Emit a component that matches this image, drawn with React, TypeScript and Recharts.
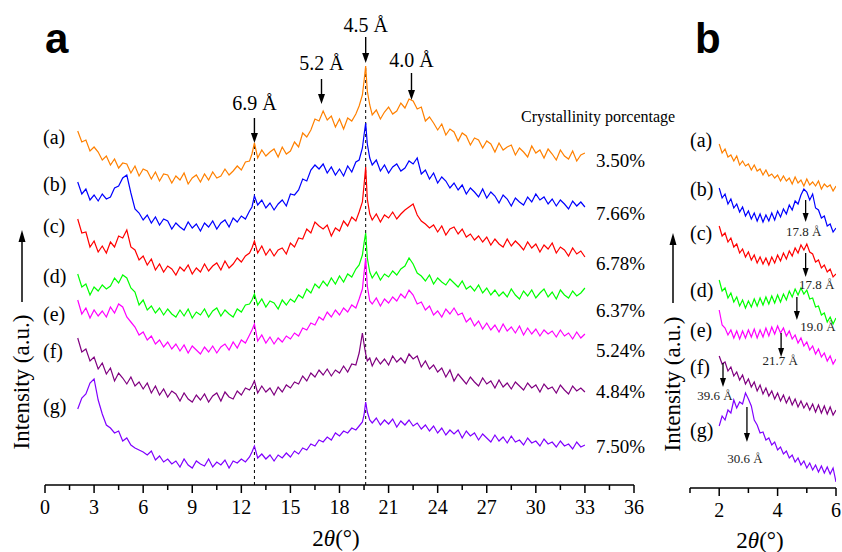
import React from "react";
import { LineChart, Line, XAxis, YAxis, ReferenceLine, ReferenceDot } from "recharts";

const SERIF = '"Liberation Serif", "Times New Roman", Times, serif';
const SANS = '"Liberation Sans", Arial, Helvetica, sans-serif';

// ---- panel a: wide-angle scan, 2θ in degrees ----
const TWO_THETA_A = [
  2, 2.25, 2.5, 2.75, 3, 3.25, 3.5, 3.75, 4, 4.25, 4.5, 4.75, 5, 5.25, 5.5, 5.75, 6, 6.25, 6.5, 6.75,
  7, 7.25, 7.5, 7.75, 8, 8.25, 8.5, 8.75, 9, 9.25, 9.5, 9.75, 10, 10.25, 10.5, 10.75, 11, 11.25, 11.5, 11.75,
  12, 12.25, 12.5,
  12.65, 12.8,
  13, 13.25, 13.5, 13.75, 14, 14.25, 14.5, 14.75, 15, 15.25, 15.5, 15.75, 16, 16.25, 16.5, 16.75, 17, 17.25,
  17.5, 17.75, 18, 18.25, 18.5, 18.75, 19,
  19.2, 19.4, 19.5, 19.6, 19.7, 19.85,
  20, 20.25, 20.5, 20.75, 21, 21.25, 21.5, 21.75, 22, 22.25, 22.5, 22.75, 23, 23.25, 23.5, 23.75, 24, 24.25,
  24.5, 24.75, 25, 25.25, 25.5, 25.75, 26, 26.25, 26.5, 26.75, 27, 27.25, 27.5, 27.75, 28, 28.25, 28.5, 28.75,
  29, 29.25, 29.5, 29.75, 30, 30.25, 30.5, 30.75, 31, 31.25, 31.5, 31.75, 32, 32.25, 32.5, 32.75, 33,
];

// intensities (a.u., stacked with offsets)
const A_ORANGE = [
  354, 343, 345, 334, 338, 333, 325, 329, 320, 326, 317, 322, 321, 312, 319, 309, 316, 314, 306, 313,
  304, 311, 310, 302, 309, 305, 312, 301, 307, 310, 303, 311, 305, 313, 307, 309, 316, 310, 314, 319,
  315, 323, 324,
  331, 342,
  327, 335, 329, 333, 336, 328, 338, 331, 334, 343, 338, 352, 348, 355, 366, 364, 374, 365, 369, 358,
  366, 356, 367, 364, 371,
  379, 390, 404, 419, 394, 380,
  370, 375, 366, 373, 378, 371, 374, 382, 377, 386, 384, 376, 378, 364, 368, 362, 355, 361, 350, 356,
  353, 344, 352, 349, 340, 347, 345, 337, 344, 341, 333, 342, 335, 338, 340, 330, 337, 333, 328, 339,
  332, 335, 327, 336, 331, 325, 335, 329, 326, 334, 324, 330, 332,
];
const B_BLUE = [
  303, 291, 296, 285, 290, 284, 291, 286, 288, 297, 299, 307, 310, 292, 276, 272, 265, 270, 262, 268,
  260, 266, 264, 256, 262, 258, 255, 263, 257, 261, 254, 262, 258, 264, 256, 262, 265, 258, 267, 263,
  269, 266, 274,
  278, 289,
  280, 285, 277, 282, 275, 281, 285, 279, 291, 290, 295, 306, 304, 315, 320, 316, 321, 312, 318, 310,
  316, 309, 319, 313, 323,
  325, 337, 350, 362, 341, 327,
  320, 325, 314, 320, 312, 318, 321, 314, 317, 324, 321, 327, 311, 315, 306, 312, 302, 308, 304, 297,
  302, 295, 300, 291, 297, 293, 288, 296, 287, 293, 289, 282, 290, 286, 279, 287, 283, 280, 288, 283,
  291, 285, 288, 281, 286, 279, 285, 281, 276, 284, 279, 283, 278,
];
const C_RED = [
  266, 252, 253, 238, 244, 233, 239, 232, 243, 238, 249, 247, 255, 238, 235, 225, 229, 220, 226, 215,
  221, 213, 219, 216, 210, 218, 214, 220, 211, 217, 213, 221, 214, 219, 222, 215, 224, 217, 221, 227,
  223, 229, 232,
  237, 244,
  232, 239, 230, 236, 229, 235, 237, 231, 242, 238, 247, 246, 256, 252, 263, 259, 256, 260, 249, 257,
  254, 264, 259, 268, 264,
  273, 283, 300, 318, 286, 271,
  265, 271, 263, 270, 267, 273, 266, 271, 275, 278, 281, 270, 264, 261, 257, 260, 253, 259, 250, 256,
  258, 251, 256, 248, 251, 245, 249, 243, 248, 240, 246, 241, 238, 246, 239, 244, 240, 235, 243, 237,
  241, 233, 240, 236, 242, 232, 238, 235, 229, 237, 231, 234, 228,
];
const D_GREEN = [
  211, 198, 201, 190, 198, 194, 200, 196, 199, 207, 202, 210, 207, 197, 193, 180, 185, 175, 179, 172,
  177, 170, 176, 171, 168, 175, 169, 176, 167, 173, 170, 176, 168, 174, 177, 169, 175, 171, 168, 176,
  173, 180, 181,
  185, 191,
  180, 186, 178, 184, 182, 176, 185, 180, 186, 183, 190, 187, 196, 192, 201, 197, 204, 199, 207, 201,
  209, 203, 211, 208, 216,
  220, 230, 242, 252, 227, 213,
  207, 213, 205, 211, 208, 214, 210, 216, 219, 227, 221, 212, 209, 204, 210, 201, 207, 203, 200, 206,
  202, 198, 204, 196, 199, 194, 200, 192, 197, 190, 195, 189, 193, 188, 196, 190, 186, 194, 189, 195,
  187, 192, 196, 188, 193, 186, 195, 190, 187, 194, 189, 192, 197,
];
const E_MAGENTA = [
  185, 171, 177, 167, 175, 169, 174, 168, 178, 172, 181, 178, 168, 163, 158, 150, 153, 145, 149, 141,
  145, 138, 143, 136, 141, 134, 140, 132, 139, 135, 131, 138, 133, 139, 132, 138, 141, 135, 143, 137,
  145, 142, 150,
  155, 161,
  144, 150, 142, 148, 141, 147, 143, 149, 146, 152, 149, 157, 155, 162, 160, 168, 165, 173, 168, 175,
  170, 177, 173, 180, 177,
  186, 196, 212, 227, 199, 184,
  181, 187, 179, 186, 182, 188, 184, 191, 187, 195, 190, 181, 183, 175, 179, 170, 174, 168, 176, 171,
  177, 170, 172, 163, 167, 159, 164, 156, 162, 155, 160, 153, 161, 154, 158, 152, 159, 150, 157, 151,
  156, 149, 155, 151, 154, 148, 155, 149, 152, 146, 153, 147, 151,
];
const F_PURPLE = [
  147, 133, 136, 124, 128, 116, 122, 111, 117, 104, 112, 107, 101, 108, 99, 103, 96, 102, 92, 99,
  90, 96, 88, 94, 91, 84, 92, 86, 83, 90, 85, 91, 83, 89, 92, 84, 93, 88, 86, 94,
  90, 97, 95,
  99, 104,
  92, 99, 93, 97, 90, 98, 93, 100, 97, 103, 101, 109, 104, 112, 108, 115, 110, 116, 109, 115,
  112, 119, 113, 121, 120,
  132, 152, 141, 131, 124, 127,
  119, 127, 121, 126, 120, 129, 123, 127, 122, 131, 126, 129, 118, 124, 116, 120, 113, 117, 108, 115,
  104, 111, 106, 101, 108, 103, 99, 107, 101, 104, 97, 105, 98, 102, 96, 103, 99, 95, 102, 97,
  100, 93, 101, 96, 98, 92, 100, 95, 91, 99, 94, 97, 93,
];
const G_VIOLET = [
  76, 87, 91, 102, 106, 85, 71, 60, 57, 52, 54, 44, 47, 40, 37, 35, 33, 30, 34, 25,
  29, 23, 26, 21, 24, 18, 26, 20, 17, 24, 21, 19, 26, 18, 23, 20, 25, 17, 24, 22,
  26, 23, 28,
  33, 39,
  27, 31, 26, 30, 24, 30, 27, 32, 28, 34, 31, 37, 35, 41, 39, 45, 43, 48, 45, 52,
  49, 54, 52, 57, 55,
  59, 63, 70, 83, 73, 65,
  62, 67, 60, 65, 61, 66, 58, 64, 60, 65, 59, 62, 56, 60, 54, 59, 52, 57, 50, 55,
  51, 55, 47, 54, 49, 52, 45, 51, 47, 43, 50, 44, 48, 42, 49, 43, 45, 40, 47, 42,
  44, 39, 46, 41, 43, 38, 44, 39, 41, 36, 43, 38, 40,
];

// ---- panel b: low-angle scan ----
const TWO_THETA_B = [
  2.0, 2.1, 2.2, 2.3, 2.4, 2.5, 2.6, 2.7, 2.8, 2.9, 3.0, 3.1, 3.2, 3.3, 3.4, 3.5, 3.6, 3.7, 3.8, 3.9,
  4.0, 4.1, 4.2, 4.3, 4.4, 4.5, 4.6, 4.7, 4.8, 4.9, 5.0, 5.1, 5.2, 5.3, 5.4, 5.5, 5.6, 5.7, 5.8, 5.9, 6.0,
];
const B_ORANGE_LOW = [
  344, 335, 339, 331, 333, 327, 332, 323, 327, 322, 324, 318, 323, 317, 319, 313, 318, 312, 314, 310,
  313, 307, 312, 307, 310, 304, 311, 305, 308, 302, 309, 303, 306, 302, 307, 299, 304, 301, 303, 297, 302,
];
const B_BLUE_LOW = [
  300, 290, 294, 284, 289, 280, 284, 276, 281, 272, 277, 269, 275, 267, 274, 266, 273, 267, 275, 268,
  277, 271, 279, 274, 283, 278, 287, 284, 293, 299, 296, 288, 294, 280, 278, 270, 272, 262, 264, 256, 260,
];
const B_RED_LOW = [
  262, 252, 255, 246, 250, 241, 244, 235, 239, 231, 236, 228, 233, 225, 231, 224, 230, 223, 231, 225,
  233, 227, 235, 229, 237, 232, 240, 235, 243, 238, 244, 236, 234, 226, 228, 220, 223, 216, 219, 211, 214,
];
const B_GREEN_LOW = [
  208, 197, 200, 190, 195, 186, 191, 182, 188, 180, 187, 181, 189, 182, 190, 183, 191, 184, 192, 185,
  193, 186, 194, 188, 197, 191, 199, 193, 200, 194, 198, 189, 190, 181, 182, 173, 175, 166, 171, 164, 170,
];
const B_MAGENTA_LOW = [
  178, 163, 160, 153, 158, 150, 157, 149, 157, 150, 158, 151, 159, 150, 158, 151, 160, 152, 161, 154,
  162, 155, 160, 152, 157, 149, 153, 145, 150, 142, 146, 138, 142, 134, 139, 131, 135, 127, 132, 124, 129,
];
const B_PURPLE_LOW = [
  132, 124, 126, 117, 121, 112, 116, 108, 113, 104, 109, 101, 106, 97, 103, 94, 100, 92, 97, 89,
  95, 87, 93, 85, 91, 83, 89, 81, 87, 80, 85, 78, 84, 76, 83, 75, 82, 74, 81, 73, 78,
];
const B_VIOLET_LOW = [
  62, 72, 68, 78, 75, 88, 80, 86, 84, 95, 89, 82, 68, 63, 55, 56, 48, 50, 43, 46,
  38, 41, 34, 37, 30, 33, 26, 30, 23, 27, 20, 25, 18, 23, 16, 22, 15, 21, 14, 20, 6,
];

const KEYS = ["a", "b", "c", "d", "e", "f", "g"];
const COLORS = ["#ff8000", "#0000ff", "#ff0000", "#00ff00", "#ff00ff", "#800080", "#8000ff"];
const ROW_LABELS = ["(a)", "(b)", "(c)", "(d)", "(e)", "(f)", "(g)"];
const CRYSTALLINITY = ["3.50%", "7.66%", "6.78%", "6.37%", "5.24%", "4.84%", "7.50%"];

const TICKS_A = [0, 1.5, 3, 4.5, 6, 7.5, 9, 10.5, 12, 13.5, 15, 16.5, 18, 19.5, 21, 22.5, 24, 25.5, 27, 28.5, 30, 31.5, 33, 34.5, 36];
const TICK_LABELS_A = [0, 3, 6, 9, 12, 15, 18, 21, 24, 27, 30, 33, 36];
const TICKS_B = [1, 2, 3, 4, 5, 6];
const TICK_LABELS_B = [2, 4, 6];

const DASHED_X = [12.8, 19.6];
const DASHED_TOP = [340, 418];

const PEAK_A_X = [12.8, 16.9, 19.6, 22.4];
const PEAK_A_Y = [342, 381, 422, 385];
const PEAK_A_TEXT = ["6.9 Å", "5.2 Å", "4.5 Å", "4.0 Å"];

const PEAK_B_X = [4.96, 4.96, 4.66, 4.12, 2.13, 2.95];
const PEAK_B_Y = [266, 211, 168, 131, 101, 46];
const PEAK_B_TEXT = ["17.8 Å", "17.8 Å", "19.0 Å", "21.7 Å", "39.6 Å", "30.6 Å"];

const SERIES_A = [A_ORANGE, B_BLUE, C_RED, D_GREEN, E_MAGENTA, F_PURPLE, G_VIOLET];
const SERIES_B = [B_ORANGE_LOW, B_BLUE_LOW, B_RED_LOW, B_GREEN_LOW, B_MAGENTA_LOW, B_PURPLE_LOW, B_VIOLET_LOW];

const buildRows = (xs: number[], series: number[][]) =>
  xs.map((x, i) => {
    const row: Record<string, number> = { x };
    KEYS.forEach((k, j) => {
      row[k] = series[j][i];
    });
    return row;
  });

const dataA = buildRows(TWO_THETA_A, SERIES_A);
const dataB = buildRows(TWO_THETA_B, SERIES_B);

// layout bits (pixels)
const ROW_Y_A = [144, 191, 233, 283, 321, 358, 413];
const PCT_Y = [167, 220, 270, 317, 357, 398, 453];
const ROW_Y_B = [147, 196, 240, 297, 337, 374, 437];
const PEAK_A_LAYOUT = [
  { len: 25, gap: 8 },
  { len: 25, gap: 9 },
  { len: 26, gap: 5 },
  { len: 27, gap: 6 },
];
const PEAK_B_LAYOUT = [
  { len: 22, dx: -2, dy: 14 },
  { len: 24, dx: 11, dy: 12 },
  { len: 23, dx: 21, dy: 11 },
  { len: 24, dx: -1, dy: 8 },
  { len: 24, dx: -8, dy: 13 },
  { len: 35, dx: -2, dy: 21 },
];

const makeTick = (labels: number[]) => (props: any) => {
  const { x, y, payload } = props;
  const major = labels.includes(payload.value);
  return (
    <g>
      <line x1={x} x2={x} y1={y} y2={y + (major ? 8 : 5)} stroke="#000" strokeWidth={1.5} />
      {major && (
        <text x={x} y={y + 29} textAnchor="middle" fontFamily={SERIF} fontSize={20} fill="#000">
          {payload.value}
        </text>
      )}
    </g>
  );
};

const ArrowTop = ({ cx, cy, len, gap, text }: any) => (
  <g>
    <line x1={cx} x2={cx} y1={cy - len} y2={cy - 8} stroke="#000" strokeWidth={1.4} />
    <path d={`M${cx - 3.5},${cy - 10} L${cx + 3.5},${cy - 10} L${cx},${cy} Z`} fill="#000" />
    <text x={cx} y={cy - len - gap} textAnchor="middle" fontFamily={SERIF} fontSize={20} fill="#000">
      {text}
    </text>
  </g>
);

const ArrowLow = ({ cx, cy, len, dx, dy, text }: any) => (
  <g>
    <line x1={cx} x2={cx} y1={cy - len} y2={cy - 7} stroke="#000" strokeWidth={1.3} />
    <path d={`M${cx - 3},${cy - 9} L${cx + 3},${cy - 9} L${cx},${cy} Z`} fill="#000" />
    <text x={cx + dx} y={cy + dy} textAnchor="middle" fontFamily={SERIF} fontSize={13} fill="#222">
      {text}
    </text>
  </g>
);

const UpArrow = ({ x, top, bottom }: { x: number; top: number; bottom: number }) => (
  <g>
    <line x1={x} x2={x} y1={bottom} y2={top + 10} stroke="#000" strokeWidth={1.5} />
    <path d={`M${x - 3.5},${top + 12} L${x + 3.5},${top + 12} L${x},${top} Z`} fill="#000" />
  </g>
);

const AxisTitle = ({ x, y }: { x: number; y: number }) => (
  <text x={x} y={y} textAnchor="middle" fontFamily={SERIF} fontSize={23} fill="#000">
    2<tspan fontStyle="italic">θ</tspan>(°)
  </text>
);

export default function App() {
  return (
    <div style={{ position: "absolute", left: 0, top: 0, width: 842, height: 552, background: "#fff" }}>
      <div style={{ position: "absolute", left: 0, top: 0 }}>
        <LineChart width={660} height={552} data={dataA} margin={{ top: 0, right: 26, left: 45, bottom: 0 }}>
          <XAxis
            dataKey="x"
            type="number"
            domain={[0, 36]}
            allowDataOverflow
            ticks={TICKS_A}
            interval={0}
            tickLine={false}
            tickSize={0}
            tickMargin={0}
            height={67}
            axisLine={{ stroke: "#000", strokeWidth: 1.5 }}
            tick={makeTick(TICK_LABELS_A)}
          />
          <YAxis hide type="number" domain={[0, 485]} allowDataOverflow />
          {DASHED_X.map((x, i) => (
            <ReferenceLine
              key={`d${i}`}
              segment={[{ x, y: 0 }, { x, y: DASHED_TOP[i] }]}
              stroke="#000"
              strokeWidth={1}
              strokeDasharray="3 3"
            />
          ))}
          {KEYS.map((k, i) => (
            <Line
              key={k}
              dataKey={k}
              type="linear"
              stroke={COLORS[i]}
              strokeWidth={1.2}
              dot={false}
              isAnimationActive={false}
            />
          ))}
          {PEAK_A_X.map((x, i) => (
            <ReferenceDot
              key={`p${i}`}
              x={x}
              y={PEAK_A_Y[i]}
              r={0}
              shape={(p: any) => (
                <ArrowTop cx={p.cx} cy={p.cy} len={PEAK_A_LAYOUT[i].len} gap={PEAK_A_LAYOUT[i].gap} text={PEAK_A_TEXT[i]} />
              )}
            />
          ))}
        </LineChart>
      </div>
      <div style={{ position: "absolute", left: 660, top: 0 }}>
        <LineChart width={182} height={552} data={dataB} margin={{ top: 0, right: 6, left: 30, bottom: 0 }}>
          <XAxis
            dataKey="x"
            type="number"
            domain={[1, 6]}
            allowDataOverflow
            ticks={TICKS_B}
            interval={0}
            tickLine={false}
            tickSize={0}
            tickMargin={0}
            height={64}
            axisLine={{ stroke: "#000", strokeWidth: 1.5 }}
            tick={makeTick(TICK_LABELS_B)}
          />
          <YAxis hide type="number" domain={[0, 488]} allowDataOverflow />
          {KEYS.map((k, i) => (
            <Line
              key={k}
              dataKey={k}
              type="linear"
              stroke={COLORS[i]}
              strokeWidth={1.2}
              dot={false}
              isAnimationActive={false}
            />
          ))}
          {PEAK_B_X.map((x, i) => (
            <ReferenceDot
              key={`q${i}`}
              x={x}
              y={PEAK_B_Y[i]}
              r={0}
              shape={(p: any) => (
                <ArrowLow
                  cx={p.cx}
                  cy={p.cy}
                  len={PEAK_B_LAYOUT[i].len}
                  dx={PEAK_B_LAYOUT[i].dx}
                  dy={PEAK_B_LAYOUT[i].dy}
                  text={PEAK_B_TEXT[i]}
                />
              )}
            />
          ))}
        </LineChart>
      </div>
      <svg width={842} height={552} style={{ position: "absolute", left: 0, top: 0, pointerEvents: "none" }}>
        <text x={45} y={53} fontFamily={SANS} fontWeight="bold" fontSize={42} fill="#000">a</text>
        <text x={695} y={53} fontFamily={SANS} fontWeight="bold" fontSize={42} fill="#000">b</text>
        <text x={521} y={122} fontFamily={SERIF} fontSize={16} fill="#000">Crystallinity porcentage</text>
        {ROW_LABELS.map((t, i) => (
          <text key={`ra${i}`} x={43} y={ROW_Y_A[i]} fontFamily={SERIF} fontSize={20} fill="#000">{t}</text>
        ))}
        {ROW_LABELS.map((t, i) => (
          <text key={`rb${i}`} x={690} y={ROW_Y_B[i]} fontFamily={SERIF} fontSize={20} fill="#000">{t}</text>
        ))}
        {CRYSTALLINITY.map((t, i) => (
          <text key={`pc${i}`} x={596} y={PCT_Y[i]} fontFamily={SERIF} fontSize={19} fill="#000">{t}</text>
        ))}
        <UpArrow x={22} top={230} bottom={302} />
        <text transform="translate(29,382) rotate(-90)" textAnchor="middle" fontFamily={SERIF} fontSize={23} fill="#000">
          Intensity (a.u.)
        </text>
        <UpArrow x={673} top={233} bottom={303} />
        <text transform="translate(680,384) rotate(-90)" textAnchor="middle" fontFamily={SERIF} fontSize={23} fill="#000">
          Intensity (a.u.)
        </text>
        <AxisTitle x={336} y={546} />
        <AxisTitle x={760} y={548} />
      </svg>
    </div>
  );
}
